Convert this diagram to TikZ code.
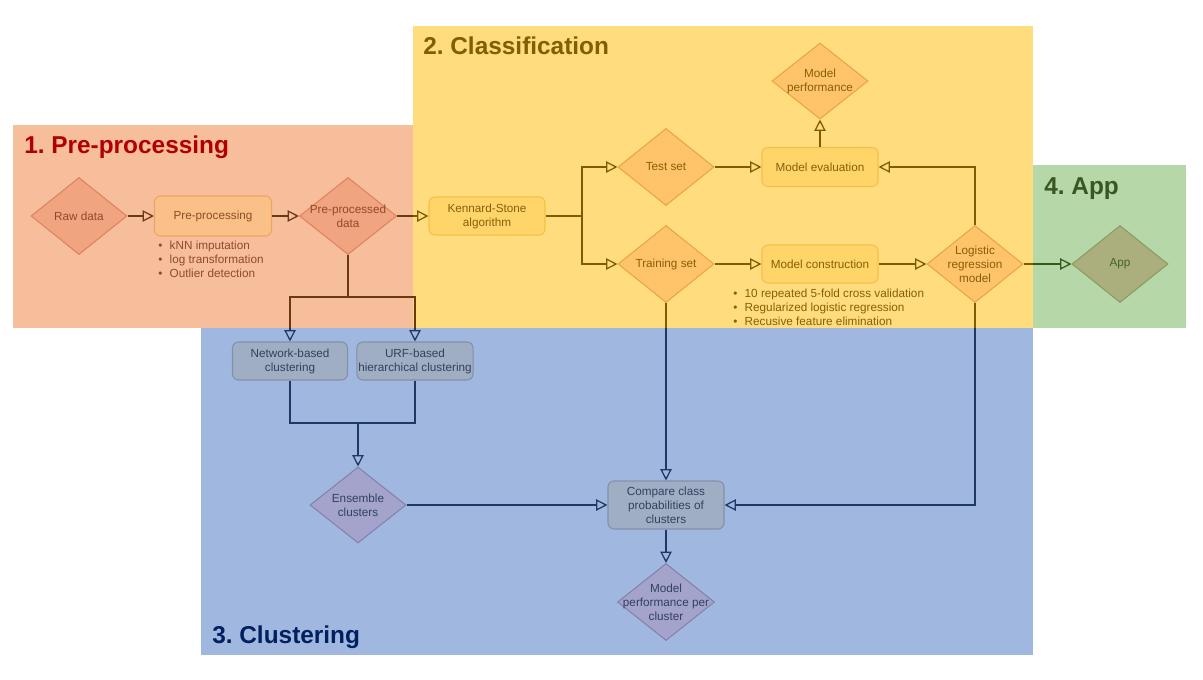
\documentclass[tikz,border=0pt]{standalone}
\usepackage{fontspec}
\setmainfont{Liberation Sans}
\usetikzlibrary{shapes.geometric,arrows.meta}
\frenchspacing

\definecolor{regO}{RGB}{246,190,155}
\definecolor{regY}{RGB}{255,220,125}
\definecolor{regG}{RGB}{182,215,168}
\definecolor{regB}{RGB}{160,184,224}

\definecolor{tO}{RGB}{178,0,0}
\definecolor{tY}{RGB}{127,96,0}
\definecolor{tB}{RGB}{0,32,96}
\definecolor{tG}{RGB}{56,87,35}

\definecolor{oDiaF}{RGB}{240,164,128}
\definecolor{oDiaD}{RGB}{225,130,95}
\definecolor{oBoxF}{RGB}{249,192,135}
\definecolor{oBoxD}{RGB}{238,165,100}
\definecolor{oTxt}{RGB}{145,75,40}
\definecolor{oLine}{RGB}{110,55,20}

\definecolor{yDiaF}{RGB}{255,195,105}
\definecolor{yDiaD}{RGB}{232,165,70}
\definecolor{yBoxF}{RGB}{255,213,105}
\definecolor{yBoxD}{RGB}{245,190,70}
\definecolor{yTxt}{RGB}{135,95,10}
\definecolor{yLine}{RGB}{128,92,0}

\definecolor{gDiaF}{RGB}{170,175,125}
\definecolor{gDiaD}{RGB}{140,155,100}
\definecolor{gTxt}{RGB}{70,100,40}
\definecolor{gLine}{RGB}{50,90,30}

\definecolor{bBoxF}{RGB}{160,174,195}
\definecolor{bBoxD}{RGB}{130,145,170}
\definecolor{bDiaF}{RGB}{163,163,204}
\definecolor{bDiaD}{RGB}{130,130,175}
\definecolor{bTxt}{RGB}{50,65,95}
\definecolor{bLine}{RGB}{31,56,100}

\tikzset{
  smallfont/.style={font=\fontsize{8.8pt}{10.5pt}\selectfont},
  titlefont/.style={font=\fontsize{18.3pt}{21pt}\selectfont\bfseries, anchor=base west, inner sep=0pt},
  dia/.style={diamond, draw, line width=0.8pt, minimum width=72pt, minimum height=57.75pt, inner sep=0pt},
  box/.style={rectangle, rounded corners=4.5pt, draw, line width=0.8pt, minimum width=87pt, minimum height=29.25pt, inner sep=1pt, align=center, smallfont},
  lbl/.style={align=center, smallfont, inner sep=0pt},
  odia/.style={dia, fill=oDiaF, draw=oDiaD},
  obox/.style={box, fill=oBoxF, draw=oBoxD, text=oTxt},
  ydia/.style={dia, fill=yDiaF, draw=yDiaD},
  ybox/.style={box, fill=yBoxF, draw=yBoxD, text=yTxt},
  gdia/.style={dia, fill=gDiaF, draw=gDiaD},
  bbox/.style={box, fill=bBoxF, draw=bBoxD, text=bTxt},
  bdia/.style={dia, fill=bDiaF, draw=bDiaD},
  conn/.style={line width=0.95pt},
  arr/.style={-{Triangle[open, length=8.5pt, width=8.5pt]}},
  oln/.style={conn, draw=oLine},
  yln/.style={conn, draw=yLine},
  bln/.style={conn, draw=bLine},
  gln/.style={conn, draw=gLine},
  bullets/.style={smallfont, align=left, anchor=west, inner sep=0pt},
}

\begin{document}
\begin{tikzpicture}[x=0.75pt,y=-0.75pt]
\useasboundingbox (0,0) rectangle (1203,679);

% regions
\fill[regO] (13,125) rectangle (413,328);
\fill[regY] (413,26) rectangle (1033,328);
\fill[regG] (1033,165) rectangle (1186,328);
\fill[regB] (201,328) rectangle (1033,655);

% titles
\node[titlefont, text=tO] (t1) at (24,153) {1. Pre-processing};
\node[titlefont, text=tY] (t2) at (423,54) {2. Classification};
\node[titlefont, text=tG] (t4) at (1044,194) {4. App};
\node[titlefont, text=tB] (t3) at (212,643) {3. Clustering};

% pre-processing
\node[odia, label={[lbl, text=oTxt]center:Raw data}] (raw) at (79,216) {};
\node[obox, minimum width=87.75pt, minimum height=30pt] (prep) at (213,216) {Pre-processing};
\node[odia, minimum width=72.75pt, label={[lbl, text=oTxt]center:Pre-processed\\data}] (ppd) at (348,216) {};
\node[bullets, text=oTxt] (prepl) at (158,259) {\textbullet\hspace{5.5pt}kNN imputation\\\textbullet\hspace{5.5pt}log transformation\\\textbullet\hspace{5.5pt}Outlier detection};

% classification
\node[ybox, minimum height=28.5pt] (ks) at (487,216) {Kennard-Stone\\algorithm};
\node[ydia, label={[lbl, text=yTxt]center:Test set}] (test) at (666,167) {};
\node[ydia, label={[lbl, text=yTxt]center:Training set}] (train) at (666,264) {};
\node[ybox] (meval) at (820,167) {Model evaluation};
\node[ybox, minimum height=28.5pt] (mcons) at (820,264) {Model construction};
\node[ydia, minimum height=57pt, label={[lbl, text=yTxt]center:Model\\performance}] (mperf) at (820,81) {};
\node[ydia, label={[lbl, text=yTxt]center:Logistic\\regression\\model}] (logreg) at (975,264) {};
\node[bullets, text=yTxt] (mconsl) at (733,307) {\textbullet\hspace{5.5pt}10 repeated 5-fold cross validation\\\textbullet\hspace{5.5pt}Regularized logistic regression\\\textbullet\hspace{5.5pt}Recusive feature elimination};

% app
\node[gdia, label={[lbl, text=gTxt]center:App}] (app) at (1120,264) {};

% clustering
\node[bbox, minimum width=86.25pt, minimum height=28.5pt] (net) at (290,361) {Network-based\\clustering};
\node[bbox, minimum width=86.25pt, minimum height=28.5pt] (urf) at (415,361) {URF-based\\hierarchical clustering};
\node[bdia, minimum height=57pt, label={[lbl, text=bTxt]center:Ensemble\\clusters}] (ens) at (358,505) {};
\node[bbox, minimum height=36pt] (comp) at (666,505) {Compare class\\probabilities of\\clusters};
\node[bdia, minimum width=72.75pt, label={[lbl, text=bTxt]center:Model\\performance per\\cluster}] (mppc) at (666,602) {};

% junction coordinates
\coordinate (cutA) at (413,216);
\coordinate (ksj) at (582,216);
\coordinate (ppj) at (348,297);
\coordinate (netcut) at (290,328);
\coordinate (urfcut) at (415,328);
\coordinate (clj) at (358,423);
\coordinate (trcut) at (666,328);
\coordinate (lrcut) at (975,328);
\coordinate (appcut) at (1033,264);

% connectors: pre-processing
\draw[oln, arr] (raw.east) -- (prep.west);
\draw[oln, arr] (prep.east) -- (ppd.west);
\draw[oln] (ppd.east) -- (cutA);
\draw[yln, arr] (cutA) -- (ks.west);
\draw[oln] (ppd.south) -- (ppj);
\draw[oln] (ppj) -| (netcut);
\draw[oln] (ppj) -| (urfcut);
\draw[bln, arr] (netcut) -- (net.north);
\draw[bln, arr] (urfcut) -- (urf.north);

% connectors: classification
\draw[yln] (ks.east) -- (ksj);
\draw[yln, arr] (ksj) |- (test.west);
\draw[yln, arr] (ksj) |- (train.west);
\draw[yln, arr] (test.east) -- (meval.west);
\draw[yln, arr] (train.east) -- (mcons.west);
\draw[yln, arr] (mcons.east) -- (logreg.west);
\draw[yln, arr] (logreg.north) |- (meval.east);
\draw[yln, arr] (meval.north) -- (mperf.south);
\draw[yln] (logreg.east) -- (appcut);
\draw[gln, arr] (appcut) -- (app.west);
\draw[yln] (train.south) -- (trcut);
\draw[bln, arr] (trcut) -- (comp.north);
\draw[yln] (logreg.south) -- (lrcut);
\draw[bln, arr] (lrcut) |- (comp.east);

% connectors: clustering
\draw[bln] (net.south) |- (clj);
\draw[bln] (urf.south) |- (clj);
\draw[bln, arr] (clj) -- (ens.north);
\draw[bln, arr] (ens.east) -- (comp.west);
\draw[bln, arr] (comp.south) -- (mppc.north);
\end{tikzpicture}
\end{document}
